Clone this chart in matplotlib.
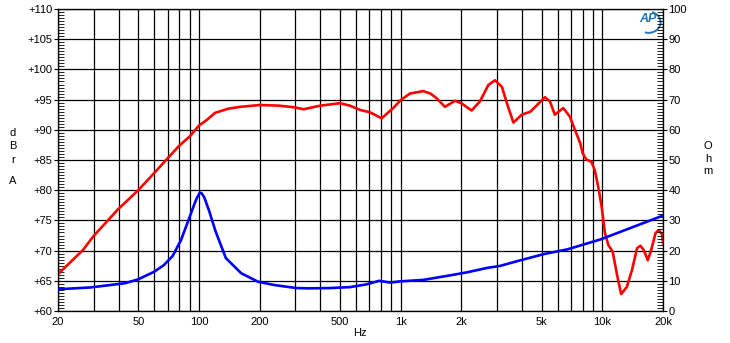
import matplotlib
matplotlib.use('Agg')
import matplotlib.pyplot as plt
from matplotlib.ticker import MultipleLocator, NullLocator
from matplotlib.patches import Arc

# Frequency response (dBrA, left axis)
spl_freq = [20, 26.6, 30, 39.6, 50, 61, 70, 80, 90, 100, 110, 120, 140, 160,
            200, 250, 300, 330, 400, 500, 560, 628, 705, 805, 919, 1000, 1112,
            1295, 1405, 1500, 1658, 1860, 2000, 2249, 2473, 2720, 2937, 3180,
            3365, 3624, 3986, 4400, 5195, 5500, 5817, 6400, 6900, 7314, 7770,
            8000, 8320, 8830, 9180, 9540, 9920, 10310, 10720, 11260, 11800,
            12400, 13240, 14040, 14870, 15450, 16050, 16810, 17480, 18360,
            19080, 19830, 20000]
spl_db = [66.1, 70.1, 72.4, 76.8, 80.0, 83.1, 85.3, 87.4, 88.9, 90.7, 91.7,
          92.8, 93.5, 93.8, 94.1, 94.0, 93.7, 93.4, 94.0, 94.4, 94.0, 93.3,
          92.9, 91.9, 93.6, 94.9, 96.0, 96.4, 96.0, 95.3, 93.8, 94.8, 94.4,
          93.2, 94.7, 97.4, 98.2, 97.1, 94.4, 91.2, 92.5, 93.0, 95.4, 94.7,
          92.5, 93.6, 92.2, 90.0, 87.8, 86.1, 85.1, 84.7, 83.3, 80.6, 77.3,
          72.9, 70.9, 69.8, 66.2, 62.8, 64.0, 66.8, 70.4, 70.8, 70.1, 68.4,
          70.1, 72.9, 73.4, 72.6, 71.2]

# Impedance (Ohm, right axis)
imp_freq = [20, 29, 43, 50, 60, 67, 74, 81.5, 90, 95, 97.5, 101, 103, 106,
            112, 121, 136, 162, 196, 236, 304, 350, 447, 560, 675, 784, 890,
            990, 1295, 1760, 2130, 2700, 3100, 3780, 5170, 6700, 9800, 20000]
imp_ohm = [7.2, 7.8, 9.2, 10.5, 13.0, 15.2, 18.2, 23.5, 31.2, 35.5, 37.3,
           39.2, 39.0, 37.8, 33.4, 26.3, 17.5, 12.5, 9.7, 8.6, 7.6, 7.5, 7.6,
           7.9, 8.8, 10.0, 9.4, 9.8, 10.3, 11.8, 12.8, 14.3, 14.9, 16.5, 18.9,
           20.4, 23.7, 31.6]

grid_freqs = [20, 30, 40, 50, 60, 70, 80, 90, 100, 200, 300, 400, 500, 600,
              700, 800, 900, 1000, 2000, 3000, 4000, 5000, 6000, 7000, 8000,
              9000, 10000, 20000]
x_labels = {20: '20', 50: '50', 100: '100', 200: '200', 500: '500',
            1000: '1k', 2000: '2k', 5000: '5k', 10000: '10k', 20000: '20k'}
db_ticks = list(range(60, 111, 5))
ohm_ticks = list(range(0, 101, 10))

plt.rcParams['font.family'] = ['Liberation Sans', 'DejaVu Sans']
plt.rcParams['font.size'] = 8

fig = plt.figure(figsize=(7.3, 3.43), dpi=100)
ax = fig.add_axes([58/730, 32/343, 605/730, 302/343])
ax.set_xscale('log')
ax.set_xlim(20, 20000)
ax.set_ylim(60, 110)

# Grid
ax.set_xticks(grid_freqs)
ax.set_xticklabels([x_labels.get(f, '') for f in grid_freqs])
ax.xaxis.set_minor_locator(NullLocator())
ax.tick_params(axis='x', length=0, pad=4)
ax.set_yticks(db_ticks)
ax.set_yticklabels(['+%d' % v for v in db_ticks])
ax.yaxis.set_minor_locator(MultipleLocator(0.5))
ax.tick_params(axis='y', which='major', direction='out', length=3, width=0.8, pad=1)
ax.tick_params(axis='y', which='minor', direction='in', length=4, width=0.6)
ax.grid(which='major', color='black', linewidth=0.9)
for s in ax.spines.values():
    s.set_linewidth(0.9)

ax.plot(spl_freq, spl_db, color='#ff0000', linewidth=1.9, zorder=3)

ax2 = ax.twinx()
ax2.set_ylim(0, 100)
ax2.set_yticks(ohm_ticks)
ax2.yaxis.set_minor_locator(MultipleLocator(1))
ax2.tick_params(axis='y', which='major', direction='out', length=3, width=0.8, pad=1)
ax2.tick_params(axis='y', which='minor', direction='in', length=4, width=0.6)
ax2.plot(imp_freq, imp_ohm, color='#0000ff', linewidth=1.9, zorder=3)

# Axis titles (stacked letters)
for ch, y in zip(['d', 'B', 'r', '', 'A'], [133, 146, 160, 170, 181]):
    fig.text(13/730, 1 - y/343, ch, ha='center', va='center')
for ch, y in zip(['O', 'h', 'm'], [146, 159, 171]):
    fig.text(708/730, 1 - y/343, ch, ha='center', va='center')
fig.text(360/730, 1 - 333/343, 'Hz', ha='center', va='center')

# AP logo
logo_col = '#1a75b8'
fig.text(648/730, 1 - 19/343, 'AP', ha='center', va='center', color=logo_col,
         fontsize=9, fontweight='bold', fontstyle='italic')
ax.add_patch(Arc((0.976, 0.956), 0.04, 0.07, theta1=-100, theta2=80,
                 transform=ax.transAxes, color=logo_col, linewidth=1.4))

fig.savefig('out.png', dpi=100)
